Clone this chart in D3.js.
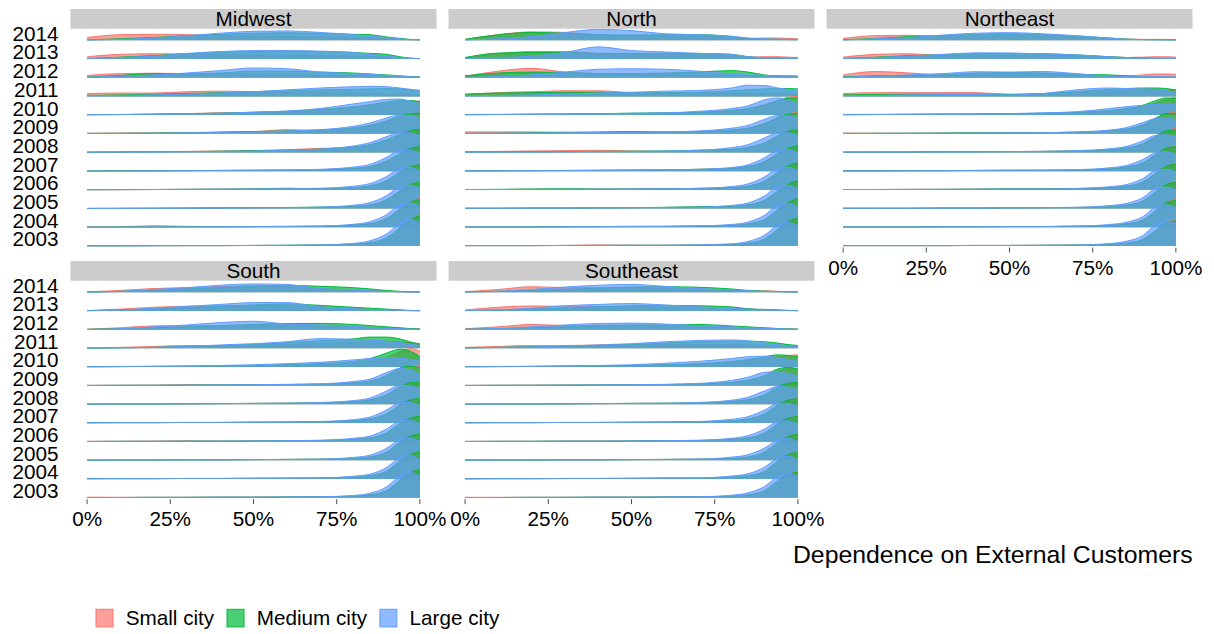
<!DOCTYPE html>
<html>
<head>
<meta charset="utf-8">
<script src="https://cdn.jsdelivr.net/npm/d3@7/dist/d3.min.js"></script>
<style>
  html, body { margin: 0; padding: 0; background: #ffffff; }
  svg { display: block; }
  text { font-family: "Liberation Sans", Arial, Helvetica, sans-serif; fill: #000; }
</style>
</head>
<body>
<svg id="chart" width="1214" height="634"></svg>
<script>
// ---------------- data ----------------
const years = ["2014","2013","2012","2011","2010","2009","2008","2007","2006","2005","2004","2003"];
const regions = ["Midwest", "North", "Northeast", "South", "Southeast"];
const cities = ["Small city", "Medium city", "Large city"];
const cityColors = ["#F8766D", "#00BA38", "#619CFF"];
const xTicks = [0, 0.25, 0.5, 0.75, 1];
// positions (share of dependence) at which the density heights below were read
const xGrid = [0, 0.1, 0.2, 0.3, 0.4, 0.5, 0.6, 0.7, 0.8, 0.85, 0.9, 0.94, 0.97, 1];

// density heights (in ridge-row units), rows ordered as `years`
const midwestSmall = [
  [0.15,0.3,0.32,0.3,0.25,0.22,0.2,0.18,0.15,0.12,0.08,0.05,0.03,0.02],
  [0.12,0.25,0.28,0.27,0.25,0.22,0.2,0.18,0.15,0.12,0.08,0.05,0.03,0.02],
  [0.12,0.22,0.24,0.22,0.2,0.18,0.16,0.14,0.12,0.1,0.08,0.06,0.04,0.03],
  [0.15,0.18,0.18,0.25,0.28,0.25,0.22,0.2,0.18,0.15,0.12,0.1,0.08,0.06],
  [0.02,0.03,0.05,0.08,0.12,0.15,0.2,0.3,0.42,0.5,0.6,0.68,0.72,0.75],
  [0.03,0.04,0.05,0.06,0.1,0.12,0.22,0.18,0.3,0.42,0.65,0.9,1.05,1.1],
  [0.02,0.03,0.04,0.06,0.08,0.1,0.15,0.22,0.28,0.38,0.6,0.9,1.1,1.2],
  [0.01,0.02,0.02,0.03,0.04,0.05,0.06,0.08,0.14,0.24,0.5,0.9,1.15,1.25],
  [0.01,0.01,0.02,0.03,0.04,0.06,0.05,0.06,0.12,0.2,0.45,0.9,1.2,1.35],
  [0.01,0.01,0.02,0.03,0.03,0.04,0.05,0.06,0.1,0.18,0.42,0.9,1.25,1.45],
  [0.02,0.03,0.08,0.05,0.03,0.03,0.04,0.05,0.1,0.18,0.42,0.92,1.3,1.55],
  [0.01,0.01,0.02,0.02,0.02,0.03,0.03,0.04,0.08,0.15,0.38,0.9,1.35,1.7]
];
const midwestMedium = [
  [0.02,0.08,0.15,0.25,0.32,0.38,0.4,0.38,0.32,0.3,0.18,0.1,0.05,0.03],
  [0.02,0.1,0.18,0.28,0.35,0.4,0.42,0.4,0.35,0.3,0.25,0.12,0.05,0.02],
  [0.03,0.12,0.22,0.2,0.25,0.35,0.35,0.3,0.25,0.2,0.15,0.1,0.06,0.04],
  [0.05,0.08,0.12,0.15,0.2,0.25,0.3,0.35,0.38,0.4,0.42,0.4,0.36,0.32],
  [0.02,0.03,0.05,0.08,0.1,0.15,0.2,0.3,0.45,0.55,0.7,0.78,0.78,0.72],
  [0.02,0.03,0.04,0.05,0.08,0.12,0.15,0.2,0.32,0.45,0.7,0.95,1.05,1.1],
  [0.02,0.03,0.04,0.05,0.07,0.1,0.12,0.18,0.3,0.42,0.68,0.98,1.15,1.25],
  [0.01,0.02,0.02,0.03,0.04,0.05,0.06,0.08,0.15,0.25,0.55,0.95,1.2,1.32],
  [0.01,0.02,0.02,0.03,0.04,0.05,0.09,0.06,0.12,0.22,0.5,0.95,1.22,1.35],
  [0.01,0.02,0.02,0.03,0.04,0.05,0.06,0.08,0.12,0.2,0.48,0.95,1.28,1.42],
  [0.01,0.02,0.02,0.03,0.03,0.04,0.05,0.06,0.12,0.2,0.48,0.98,1.32,1.5],
  [0.01,0.01,0.02,0.02,0.02,0.03,0.04,0.06,0.1,0.18,0.45,0.98,1.38,1.65]
];
const midwestLarge = [
  [0.02,0.05,0.12,0.25,0.38,0.48,0.5,0.42,0.3,0.22,0.15,0.08,0.04,0.03],
  [0.02,0.08,0.15,0.3,0.4,0.45,0.45,0.42,0.35,0.25,0.15,0.08,0.04,0.02],
  [0.02,0.08,0.15,0.25,0.38,0.52,0.48,0.3,0.22,0.18,0.12,0.08,0.05,0.03],
  [0.03,0.05,0.08,0.12,0.18,0.25,0.35,0.45,0.52,0.54,0.52,0.45,0.38,0.3],
  [0.02,0.03,0.05,0.07,0.1,0.15,0.22,0.35,0.6,0.72,0.84,0.86,0.75,0.6],
  [0.02,0.02,0.03,0.05,0.07,0.1,0.15,0.22,0.4,0.58,0.85,1.0,0.98,0.85],
  [0.02,0.02,0.03,0.04,0.06,0.08,0.12,0.18,0.35,0.52,0.85,1.08,1.05,0.9],
  [0.01,0.01,0.02,0.03,0.04,0.05,0.06,0.1,0.22,0.36,0.75,1.12,1.12,0.95],
  [0.01,0.01,0.02,0.03,0.04,0.05,0.06,0.09,0.2,0.34,0.72,1.15,1.2,1.02],
  [0.01,0.01,0.02,0.02,0.03,0.04,0.05,0.08,0.18,0.32,0.7,1.18,1.25,1.08],
  [0.01,0.01,0.02,0.02,0.03,0.04,0.05,0.07,0.16,0.3,0.68,1.2,1.3,1.12],
  [0.01,0.01,0.01,0.02,0.02,0.03,0.04,0.06,0.14,0.28,0.65,1.22,1.42,1.25]
];

const northSmall = [
  [0.05,0.3,0.45,0.42,0.3,0.22,0.25,0.25,0.15,0.1,0.12,0.12,0.1,0.08],
  [0.05,0.28,0.4,0.4,0.3,0.25,0.28,0.25,0.15,0.1,0.12,0.12,0.1,0.08],
  [0.08,0.35,0.5,0.3,0.22,0.2,0.2,0.15,0.12,0.1,0.1,0.12,0.12,0.1],
  [0.1,0.2,0.25,0.3,0.3,0.2,0.15,0.15,0.15,0.15,0.15,0.15,0.15,0.15],
  [0.04,0.04,0.05,0.06,0.06,0.08,0.1,0.15,0.25,0.35,0.55,0.8,0.95,1.0],
  [0.1,0.1,0.1,0.08,0.05,0.05,0.06,0.1,0.2,0.3,0.55,0.85,1.05,1.15],
  [0.05,0.06,0.08,0.1,0.12,0.08,0.06,0.08,0.15,0.25,0.5,0.88,1.1,1.25],
  [0.02,0.03,0.03,0.04,0.05,0.06,0.07,0.1,0.15,0.25,0.5,0.92,1.15,1.3],
  [0.02,0.02,0.03,0.03,0.04,0.05,0.06,0.08,0.12,0.2,0.45,0.9,1.2,1.4],
  [0.02,0.02,0.03,0.03,0.04,0.05,0.06,0.08,0.12,0.2,0.42,0.9,1.25,1.45],
  [0.02,0.02,0.02,0.03,0.04,0.05,0.05,0.07,0.1,0.18,0.4,0.9,1.28,1.5],
  [0.02,0.02,0.02,0.03,0.06,0.04,0.04,0.05,0.08,0.15,0.35,0.85,1.25,1.45]
];
const northMedium = [
  [0.05,0.3,0.42,0.38,0.3,0.28,0.3,0.3,0.2,0.1,0.06,0.05,0.04,0.03],
  [0.08,0.32,0.35,0.35,0.3,0.3,0.3,0.3,0.25,0.12,0.06,0.05,0.04,0.03],
  [0.1,0.25,0.3,0.28,0.22,0.22,0.25,0.3,0.38,0.3,0.15,0.08,0.05,0.04],
  [0.12,0.18,0.2,0.22,0.22,0.2,0.2,0.22,0.3,0.35,0.4,0.42,0.42,0.4],
  [0.02,0.03,0.05,0.06,0.08,0.1,0.12,0.15,0.25,0.35,0.55,0.78,0.9,0.92],
  [0.02,0.03,0.05,0.08,0.1,0.12,0.1,0.12,0.2,0.3,0.55,0.88,1.05,1.1],
  [0.02,0.03,0.04,0.05,0.06,0.07,0.08,0.12,0.18,0.28,0.52,0.9,1.12,1.22],
  [0.02,0.02,0.03,0.04,0.05,0.06,0.07,0.1,0.15,0.25,0.52,0.95,1.22,1.35],
  [0.02,0.03,0.05,0.06,0.05,0.05,0.06,0.08,0.12,0.2,0.48,0.95,1.28,1.45],
  [0.02,0.02,0.03,0.03,0.04,0.05,0.07,0.1,0.12,0.2,0.45,0.95,1.3,1.5],
  [0.02,0.02,0.02,0.03,0.03,0.04,0.05,0.07,0.1,0.18,0.42,0.95,1.32,1.55],
  [0.02,0.02,0.02,0.03,0.03,0.04,0.04,0.05,0.08,0.15,0.38,0.9,1.3,1.5]
];
const northLarge = [
  [0.02,0.08,0.2,0.42,0.58,0.52,0.35,0.3,0.22,0.12,0.08,0.06,0.05,0.05],
  [0.02,0.08,0.15,0.35,0.65,0.45,0.38,0.3,0.25,0.12,0.08,0.06,0.05,0.05],
  [0.02,0.06,0.15,0.3,0.45,0.48,0.45,0.35,0.2,0.15,0.12,0.08,0.05,0.04],
  [0.03,0.05,0.08,0.12,0.18,0.22,0.28,0.32,0.45,0.6,0.58,0.45,0.38,0.35],
  [0.02,0.03,0.04,0.05,0.07,0.1,0.12,0.2,0.35,0.5,0.82,0.92,0.8,0.62],
  [0.02,0.03,0.04,0.05,0.07,0.08,0.1,0.15,0.3,0.45,0.78,0.98,0.95,0.82],
  [0.02,0.03,0.03,0.04,0.05,0.06,0.08,0.12,0.26,0.42,0.78,1.05,1.05,0.88],
  [0.02,0.02,0.03,0.03,0.04,0.05,0.07,0.1,0.2,0.34,0.72,1.12,1.15,0.98],
  [0.02,0.02,0.03,0.03,0.04,0.05,0.06,0.08,0.18,0.32,0.7,1.15,1.2,1.02],
  [0.02,0.02,0.03,0.03,0.04,0.05,0.06,0.08,0.17,0.3,0.68,1.18,1.24,1.05],
  [0.02,0.02,0.02,0.03,0.04,0.05,0.05,0.07,0.15,0.28,0.65,1.2,1.28,1.1],
  [0.02,0.02,0.02,0.03,0.03,0.04,0.04,0.06,0.12,0.24,0.58,1.12,1.25,1.1]
];

const northeastSmall = [
  [0.1,0.25,0.27,0.2,0.22,0.25,0.22,0.15,0.1,0.06,0.05,0.05,0.05,0.05],
  [0.1,0.25,0.28,0.2,0.2,0.2,0.2,0.18,0.12,0.08,0.1,0.12,0.12,0.1],
  [0.15,0.33,0.25,0.15,0.15,0.18,0.2,0.15,0.1,0.1,0.15,0.2,0.2,0.18],
  [0.15,0.2,0.2,0.2,0.2,0.12,0.15,0.2,0.25,0.3,0.35,0.35,0.32,0.3],
  [0.04,0.04,0.05,0.06,0.06,0.07,0.08,0.12,0.2,0.3,0.45,0.65,0.85,0.95],
  [0.04,0.03,0.03,0.04,0.05,0.05,0.06,0.08,0.15,0.25,0.45,0.8,1.05,1.2],
  [0.03,0.03,0.03,0.04,0.05,0.05,0.06,0.08,0.14,0.24,0.45,0.82,1.12,1.3],
  [0.02,0.02,0.03,0.03,0.04,0.05,0.05,0.07,0.12,0.22,0.42,0.85,1.2,1.4],
  [0.02,0.02,0.03,0.03,0.04,0.05,0.05,0.07,0.12,0.2,0.4,0.85,1.22,1.45],
  [0.02,0.02,0.02,0.03,0.03,0.04,0.05,0.06,0.1,0.18,0.38,0.85,1.25,1.5],
  [0.02,0.02,0.02,0.03,0.03,0.04,0.04,0.06,0.1,0.18,0.36,0.85,1.28,1.55],
  [0.02,0.02,0.02,0.02,0.03,0.03,0.04,0.05,0.08,0.15,0.32,0.8,1.22,1.45]
];
const northeastMedium = [
  [0.03,0.1,0.2,0.25,0.32,0.35,0.3,0.22,0.12,0.06,0.04,0.03,0.03,0.02],
  [0.03,0.1,0.18,0.22,0.28,0.3,0.28,0.22,0.12,0.08,0.05,0.04,0.03,0.03],
  [0.05,0.1,0.12,0.15,0.25,0.28,0.25,0.18,0.15,0.1,0.05,0.04,0.03,0.03],
  [0.08,0.1,0.12,0.12,0.12,0.1,0.15,0.25,0.38,0.42,0.45,0.45,0.42,0.35],
  [0.02,0.03,0.04,0.05,0.06,0.07,0.1,0.15,0.25,0.35,0.52,0.78,0.92,0.88],
  [0.02,0.03,0.03,0.04,0.05,0.05,0.06,0.08,0.15,0.25,0.48,0.85,1.08,1.1],
  [0.02,0.02,0.03,0.04,0.04,0.05,0.06,0.08,0.14,0.24,0.46,0.88,1.15,1.22],
  [0.02,0.02,0.03,0.03,0.04,0.05,0.05,0.07,0.12,0.22,0.45,0.9,1.22,1.32],
  [0.02,0.02,0.03,0.03,0.04,0.06,0.06,0.07,0.12,0.2,0.42,0.9,1.25,1.38],
  [0.02,0.02,0.02,0.03,0.03,0.04,0.05,0.06,0.1,0.18,0.4,0.9,1.28,1.42],
  [0.02,0.02,0.02,0.03,0.03,0.04,0.04,0.06,0.1,0.18,0.38,0.9,1.3,1.45],
  [0.02,0.02,0.02,0.02,0.03,0.03,0.04,0.05,0.08,0.15,0.35,0.85,1.25,1.35]
];
const northeastLarge = [
  [0.02,0.08,0.15,0.28,0.38,0.41,0.35,0.25,0.12,0.06,0.04,0.03,0.03,0.02],
  [0.02,0.08,0.15,0.25,0.33,0.32,0.28,0.22,0.12,0.08,0.06,0.05,0.04,0.03],
  [0.03,0.08,0.15,0.22,0.32,0.3,0.33,0.22,0.08,0.06,0.05,0.05,0.05,0.05],
  [0.03,0.05,0.08,0.1,0.1,0.08,0.15,0.35,0.45,0.42,0.4,0.38,0.3,0.22],
  [0.02,0.03,0.04,0.05,0.06,0.08,0.12,0.18,0.35,0.45,0.52,0.58,0.6,0.55],
  [0.02,0.02,0.03,0.03,0.04,0.05,0.06,0.1,0.2,0.32,0.6,0.82,0.85,0.75],
  [0.02,0.02,0.03,0.03,0.04,0.05,0.06,0.1,0.2,0.32,0.62,0.92,0.95,0.82],
  [0.02,0.02,0.02,0.03,0.04,0.05,0.05,0.08,0.18,0.3,0.62,1.0,1.05,0.9],
  [0.02,0.02,0.02,0.03,0.04,0.05,0.05,0.08,0.17,0.28,0.6,1.05,1.1,0.95],
  [0.02,0.02,0.02,0.03,0.03,0.04,0.05,0.07,0.16,0.27,0.58,1.08,1.15,1.0],
  [0.02,0.02,0.02,0.03,0.03,0.04,0.04,0.06,0.15,0.26,0.56,1.1,1.2,1.05],
  [0.02,0.02,0.02,0.02,0.03,0.03,0.04,0.05,0.13,0.25,0.55,1.15,1.35,1.2]
];

const southSmall = [
  [0.02,0.1,0.2,0.25,0.3,0.35,0.3,0.2,0.12,0.08,0.05,0.03,0.02,0.01],
  [0.02,0.1,0.2,0.25,0.28,0.3,0.28,0.2,0.12,0.08,0.05,0.03,0.02,0.01],
  [0.02,0.1,0.2,0.22,0.22,0.25,0.25,0.2,0.15,0.12,0.1,0.07,0.05,0.05],
  [0.02,0.05,0.1,0.15,0.15,0.15,0.2,0.25,0.3,0.35,0.38,0.35,0.3,0.25],
  [0.02,0.03,0.04,0.05,0.05,0.06,0.08,0.12,0.2,0.3,0.5,0.82,0.98,0.85],
  [0.02,0.02,0.03,0.05,0.04,0.05,0.06,0.08,0.15,0.25,0.5,0.85,1.05,1.1],
  [0.02,0.02,0.02,0.03,0.04,0.05,0.06,0.08,0.14,0.24,0.48,0.88,1.12,1.22],
  [0.02,0.02,0.02,0.03,0.03,0.05,0.05,0.07,0.12,0.22,0.45,0.9,1.18,1.32],
  [0.02,0.02,0.03,0.05,0.03,0.04,0.05,0.06,0.12,0.2,0.42,0.9,1.22,1.38],
  [0.02,0.02,0.02,0.04,0.03,0.04,0.05,0.06,0.1,0.18,0.4,0.9,1.25,1.42],
  [0.04,0.02,0.02,0.03,0.03,0.04,0.06,0.05,0.1,0.18,0.38,0.9,1.28,1.48],
  [0.03,0.02,0.02,0.02,0.03,0.03,0.04,0.05,0.08,0.15,0.35,0.88,1.3,1.55]
];
const southMedium = [
  [0.02,0.05,0.1,0.18,0.25,0.32,0.38,0.32,0.25,0.18,0.1,0.05,0.03,0.02],
  [0.02,0.05,0.1,0.18,0.25,0.32,0.38,0.3,0.2,0.15,0.1,0.06,0.03,0.02],
  [0.02,0.05,0.1,0.15,0.2,0.28,0.33,0.33,0.28,0.22,0.15,0.1,0.06,0.04],
  [0.01,0.03,0.05,0.1,0.15,0.2,0.3,0.4,0.5,0.6,0.6,0.5,0.35,0.22],
  [0.01,0.02,0.03,0.04,0.06,0.08,0.12,0.18,0.3,0.45,0.75,0.95,0.85,0.55],
  [0.01,0.02,0.02,0.03,0.04,0.05,0.06,0.08,0.15,0.25,0.55,0.95,1.05,0.95],
  [0.01,0.02,0.02,0.03,0.04,0.05,0.06,0.08,0.14,0.24,0.52,0.95,1.15,1.2],
  [0.01,0.02,0.02,0.03,0.03,0.04,0.05,0.07,0.12,0.22,0.5,0.98,1.22,1.32],
  [0.01,0.02,0.02,0.03,0.03,0.04,0.05,0.06,0.12,0.2,0.48,0.98,1.25,1.38],
  [0.01,0.02,0.02,0.03,0.03,0.04,0.05,0.06,0.1,0.18,0.45,0.98,1.28,1.42],
  [0.01,0.02,0.02,0.03,0.03,0.04,0.04,0.06,0.1,0.18,0.42,0.98,1.3,1.48],
  [0.01,0.01,0.02,0.02,0.03,0.03,0.04,0.05,0.08,0.15,0.38,0.95,1.32,1.52]
];
const southLarge = [
  [0.01,0.05,0.15,0.25,0.38,0.45,0.42,0.2,0.12,0.08,0.05,0.03,0.02,0.01],
  [0.01,0.05,0.15,0.25,0.35,0.45,0.45,0.22,0.12,0.08,0.05,0.03,0.02,0.01],
  [0.01,0.05,0.15,0.25,0.38,0.45,0.3,0.25,0.18,0.12,0.08,0.05,0.03,0.02],
  [0.01,0.03,0.05,0.1,0.18,0.25,0.35,0.52,0.48,0.45,0.38,0.3,0.22,0.15],
  [0.01,0.02,0.03,0.05,0.08,0.12,0.18,0.25,0.38,0.45,0.5,0.48,0.4,0.3],
  [0.01,0.02,0.02,0.03,0.04,0.05,0.07,0.1,0.22,0.35,0.7,0.92,0.85,0.6],
  [0.01,0.02,0.02,0.03,0.04,0.05,0.06,0.1,0.2,0.34,0.72,1.02,1.0,0.8],
  [0.01,0.02,0.02,0.03,0.03,0.04,0.05,0.08,0.18,0.32,0.7,1.08,1.1,0.9],
  [0.01,0.02,0.02,0.03,0.03,0.04,0.05,0.08,0.18,0.3,0.68,1.1,1.15,0.95],
  [0.01,0.02,0.02,0.03,0.03,0.04,0.05,0.07,0.16,0.28,0.65,1.12,1.2,1.0],
  [0.01,0.02,0.02,0.03,0.03,0.04,0.04,0.06,0.15,0.26,0.62,1.15,1.28,1.05],
  [0.01,0.01,0.02,0.02,0.03,0.03,0.04,0.05,0.12,0.24,0.58,1.18,1.38,1.1]
];

const southeastSmall = [
  [0.03,0.15,0.3,0.25,0.25,0.25,0.2,0.15,0.1,0.08,0.08,0.05,0.03,0.02],
  [0.05,0.2,0.27,0.25,0.25,0.22,0.18,0.15,0.12,0.1,0.08,0.05,0.03,0.02],
  [0.05,0.15,0.28,0.22,0.22,0.22,0.2,0.15,0.12,0.1,0.08,0.06,0.04,0.03],
  [0.05,0.1,0.15,0.15,0.18,0.2,0.2,0.2,0.2,0.18,0.15,0.12,0.1,0.08],
  [0.03,0.03,0.04,0.06,0.05,0.08,0.1,0.15,0.25,0.35,0.45,0.55,0.62,0.65],
  [0.02,0.02,0.03,0.03,0.04,0.05,0.06,0.08,0.15,0.25,0.45,0.78,0.92,0.95],
  [0.02,0.02,0.02,0.03,0.04,0.05,0.05,0.07,0.14,0.24,0.45,0.85,1.1,1.2],
  [0.02,0.02,0.02,0.03,0.03,0.04,0.05,0.07,0.12,0.22,0.42,0.88,1.18,1.32],
  [0.02,0.02,0.02,0.03,0.03,0.04,0.05,0.06,0.12,0.2,0.4,0.88,1.22,1.38],
  [0.04,0.02,0.02,0.03,0.03,0.04,0.05,0.06,0.1,0.18,0.38,0.88,1.25,1.42],
  [0.02,0.02,0.02,0.02,0.03,0.03,0.04,0.05,0.1,0.18,0.36,0.88,1.28,1.45],
  [0.02,0.02,0.02,0.02,0.03,0.03,0.04,0.05,0.08,0.15,0.32,0.82,1.22,1.4]
];
const southeastMedium = [
  [0.02,0.05,0.1,0.15,0.22,0.28,0.3,0.27,0.18,0.1,0.06,0.04,0.03,0.02],
  [0.02,0.05,0.1,0.15,0.22,0.28,0.3,0.28,0.22,0.12,0.08,0.05,0.03,0.02],
  [0.02,0.05,0.1,0.15,0.22,0.25,0.25,0.28,0.2,0.15,0.1,0.06,0.04,0.03],
  [0.02,0.05,0.08,0.1,0.15,0.2,0.28,0.35,0.38,0.38,0.35,0.28,0.2,0.15],
  [0.01,0.02,0.03,0.04,0.06,0.08,0.12,0.18,0.3,0.4,0.55,0.65,0.62,0.55],
  [0.01,0.02,0.02,0.03,0.04,0.05,0.06,0.1,0.18,0.3,0.55,0.9,0.98,0.9],
  [0.01,0.02,0.02,0.03,0.04,0.05,0.06,0.08,0.15,0.26,0.52,0.95,1.12,1.18],
  [0.01,0.02,0.02,0.03,0.03,0.04,0.05,0.07,0.12,0.22,0.5,0.98,1.22,1.3],
  [0.01,0.02,0.02,0.03,0.03,0.04,0.05,0.06,0.12,0.2,0.48,0.98,1.25,1.35],
  [0.01,0.02,0.02,0.03,0.03,0.04,0.05,0.06,0.1,0.18,0.45,0.98,1.28,1.4],
  [0.01,0.02,0.02,0.03,0.03,0.04,0.06,0.05,0.1,0.18,0.42,0.98,1.3,1.42],
  [0.01,0.01,0.02,0.02,0.03,0.03,0.04,0.05,0.08,0.15,0.38,0.92,1.25,1.35]
];
const southeastLarge = [
  [0.02,0.06,0.15,0.28,0.38,0.42,0.32,0.2,0.12,0.08,0.05,0.03,0.02,0.01],
  [0.02,0.06,0.15,0.28,0.35,0.4,0.32,0.22,0.15,0.1,0.06,0.04,0.02,0.01],
  [0.02,0.06,0.15,0.25,0.33,0.35,0.3,0.22,0.15,0.1,0.07,0.05,0.03,0.02],
  [0.02,0.05,0.08,0.12,0.18,0.25,0.35,0.42,0.45,0.4,0.3,0.2,0.12,0.08],
  [0.01,0.02,0.03,0.05,0.08,0.12,0.2,0.3,0.45,0.55,0.58,0.5,0.4,0.3],
  [0.01,0.02,0.02,0.03,0.04,0.05,0.07,0.12,0.28,0.45,0.72,0.75,0.65,0.5],
  [0.01,0.02,0.02,0.03,0.04,0.05,0.06,0.1,0.22,0.38,0.72,0.95,0.92,0.75],
  [0.01,0.02,0.02,0.03,0.03,0.04,0.05,0.08,0.2,0.34,0.7,1.05,1.05,0.88],
  [0.01,0.02,0.02,0.03,0.03,0.04,0.05,0.08,0.18,0.32,0.68,1.08,1.12,0.92],
  [0.01,0.02,0.02,0.03,0.03,0.04,0.05,0.07,0.17,0.3,0.66,1.1,1.18,0.98],
  [0.01,0.02,0.02,0.03,0.03,0.04,0.04,0.06,0.16,0.28,0.64,1.12,1.22,1.02],
  [0.01,0.01,0.02,0.02,0.03,0.03,0.04,0.05,0.13,0.26,0.6,1.15,1.32,1.12]
];

const regionSeries = [
  [midwestSmall, midwestMedium, midwestLarge],
  [northSmall, northMedium, northLarge],
  [northeastSmall, northeastMedium, northeastLarge],
  [southSmall, southMedium, southLarge],
  [southeastSmall, southeastMedium, southeastLarge]
];

// ---------------- layout ----------------
const FONT = 20.7;
const svg = d3.select("#chart");
const panelW = 366, colStep = 378, firstLeft = 70.5, expandX = 16.6;
const stripTops = [9, 261];
const stripH = 19.7;
const baseTop = [40.3, 292.3];
const baseBottom = [246, 497.7];
const fillAlpha = 0.7;

regions.forEach((region, ri) => {
  const col = ri % 3, row = Math.floor(ri / 3);
  const left = firstLeft + col * colStep;
  const x = d3.scaleLinear().domain([0, 1]).range([left + expandX, left + panelW - expandX]);
  const y = d3.scalePoint().domain(years).range([baseTop[row], baseBottom[row]]);
  const step = y.step();
  const g = svg.append("g");

  // strip
  g.append("rect").attr("x", left).attr("y", stripTops[row]).attr("width", panelW).attr("height", stripH)
    .attr("fill", "#cccccc");
  g.append("text").attr("x", left + panelW / 2).attr("y", stripTops[row] + 16.9)
    .attr("text-anchor", "middle").attr("font-size", FONT).text(region);

  // ridges
  const ridges = g.append("g");
  years.forEach((yr, yi) => {
    const base = y(yr);
    cities.forEach((c, ci) => {
      const vals = regionSeries[ri][ci][yi];
      const area = d3.area()
        .x((d, i) => x(xGrid[i]))
        .y0(base)
        .y1(d => base - d * step)
        .curve(d3.curveMonotoneX);
      const line = d3.line()
        .x((d, i) => x(xGrid[i]))
        .y(d => base - d * step)
        .curve(d3.curveMonotoneX);
      ridges.append("path").attr("d", area(vals))
        .attr("fill", cityColors[ci]).attr("fill-opacity", fillAlpha).attr("stroke", "none");
      ridges.append("path").attr("d", line(vals))
        .attr("fill", "none").attr("stroke", cityColors[ci]).attr("stroke-width", 1);
    });
  });

  // y labels on left column
  if (col === 0) {
    years.forEach(yr => {
      g.append("text").attr("x", 58.5).attr("y", y(yr) + 0.4)
        .attr("text-anchor", "end").attr("font-size", FONT).text(yr);
    });
  }

  // x axis where there is no panel below
  if (row === 1 || col === 2) {
    const ax = g.append("g");
    const b = baseBottom[row];
    xTicks.forEach(t => {
      ax.append("line").attr("x1", x(t)).attr("x2", x(t)).attr("y1", b + 1.5).attr("y2", b + 6.5)
        .attr("stroke", "#4d4d4d").attr("stroke-width", 1);
      ax.append("text").attr("x", x(t)).attr("y", b + 28.6).attr("text-anchor", "middle")
        .attr("font-size", FONT).text(d3.format(".0%")(t));
    });
  }
});

// axis title
svg.append("text").attr("x", 1192.7).attr("y", 562.7).attr("text-anchor", "end")
  .attr("font-size", 24.8).text("Dependence on External Customers");

// legend
let lx = 96;
const legend = svg.append("g");
cities.forEach((c, ci) => {
  legend.append("rect").attr("x", lx).attr("y", 609.3).attr("width", 17).attr("height", 17.6)
    .attr("fill", cityColors[ci]).attr("fill-opacity", fillAlpha)
    .attr("stroke", cityColors[ci]).attr("stroke-width", 1);
  const t = legend.append("text").attr("x", lx + 29.7).attr("y", 625.4)
    .attr("font-size", FONT).text(c);
  lx = lx + 29.7 + t.node().getComputedTextLength() + 12.8;
});
</script>
</body>
</html>
